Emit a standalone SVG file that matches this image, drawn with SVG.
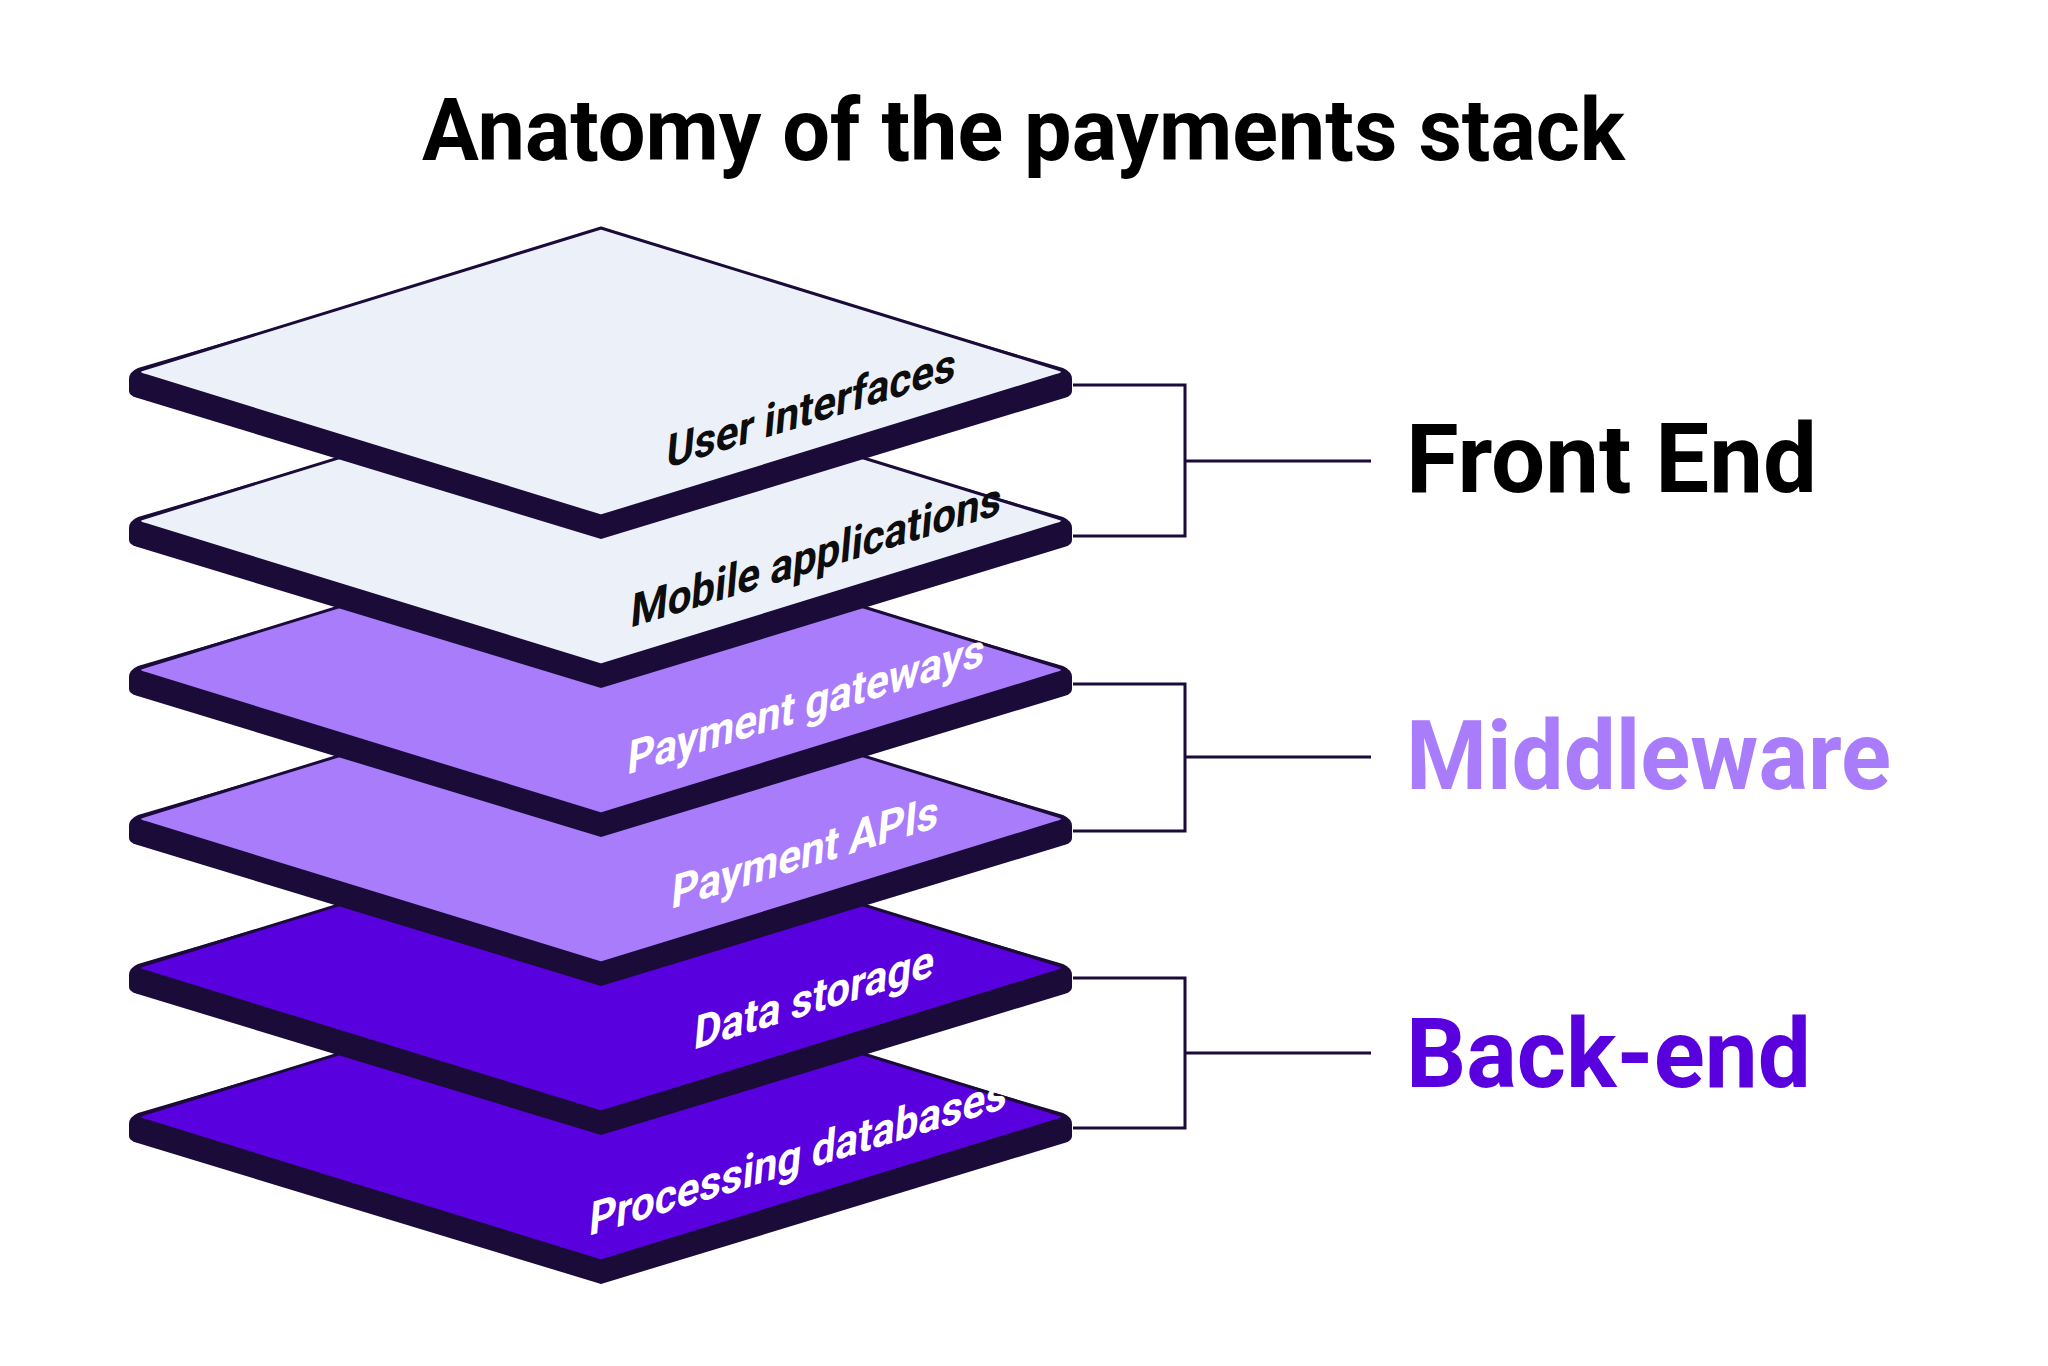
<svg xmlns="http://www.w3.org/2000/svg" width="2048" height="1366" viewBox="0 0 2048 1366">
<style>
.slab{fill:#1a0b38;}
.face{stroke:#1a0b38;stroke-width:3;stroke-linejoin:round;}
.light{fill:#ecf0f9;}
.mid{fill:#a97cfc;}
.dark{fill:#5900de;}
.lbl{font-family:Roboto,"Liberation Sans",sans-serif;font-weight:700;font-size:44px;text-anchor:middle;}
.conn{fill:none;stroke:#1a0b38;stroke-width:3;}
.grp{font-family:Roboto,"Liberation Sans",sans-serif;font-weight:700;font-size:96px;}
.title{font-family:Roboto,"Liberation Sans",sans-serif;font-weight:700;font-size:87px;text-anchor:middle;fill:#000;}
</style>
<defs>
<path id="slabShape" d="M138,-4 Q129,0 129,7 L129,19 Q129,23 136,25.5 L601,167 L1066,25.5 Q1072,23 1072,19 L1072,7 Q1072,0 1063,-4 L601,-140 Z"/>
<path id="faceShape" d="M601,-144 L1056.5,-3.5 Q1069,0 1056.5,3.5 L601,144 L145.5,3.5 Q133,0 145.5,-3.5 Z"/>
</defs>
<rect width="2048" height="1366" fill="#ffffff"/>
<text class="title" x="1023.5" y="160" textLength="1203" lengthAdjust="spacingAndGlyphs">Anatomy of the payments stack</text>

<g id="layer-processing-databases" transform="translate(0,1117)">
<use href="#slabShape" class="slab"/>
<use href="#faceShape" class="face dark"/>
<text class="lbl" fill="#ffffff" transform="translate(797,55) rotate(-17.07) skewX(-22)">Processing databases</text>
</g>
<g id="layer-data-storage" transform="translate(0,968)">
<use href="#slabShape" class="slab"/>
<use href="#faceShape" class="face dark"/>
<text class="lbl" fill="#ffffff" transform="translate(813,45) rotate(-17.07) skewX(-22)">Data storage</text>
</g>
<g id="layer-payment-apis" transform="translate(0,819)">
<use href="#slabShape" class="slab"/>
<use href="#faceShape" class="face mid"/>
<text class="lbl" fill="#ffffff" transform="translate(804,49) rotate(-17.07) skewX(-22)">Payment APIs</text>
</g>
<g id="layer-payment-gateways" transform="translate(0,670)">
<use href="#slabShape" class="slab"/>
<use href="#faceShape" class="face mid"/>
<text class="lbl" fill="#ffffff" transform="translate(805,50) rotate(-17.07) skewX(-22)">Payment gateways</text>
</g>
<g id="layer-mobile-applications" transform="translate(0,521)">
<use href="#slabShape" class="slab"/>
<use href="#faceShape" class="face light"/>
<text class="lbl" fill="#0d0d0d" transform="translate(815,50) rotate(-17.07) skewX(-22)">Mobile applications</text>
</g>
<g id="layer-user-interfaces" transform="translate(0,372)">
<use href="#slabShape" class="slab"/>
<use href="#faceShape" class="face light"/>
<text class="lbl" fill="#0d0d0d" transform="translate(810,52) rotate(-17.07) skewX(-22)">User interfaces</text>
</g>

<g id="connectors">
<path class="conn" d="M1073,385 H1185 V536 H1073 M1185,461 H1371"/>
<path class="conn" d="M1073,684 H1185 V831 H1073 M1185,757 H1371"/>
<path class="conn" d="M1073,978 H1185 V1128 H1073 M1185,1053 H1371"/>
</g>

<g id="group-front-end"><text class="grp" x="1406" y="492" fill="#000000" textLength="411" lengthAdjust="spacingAndGlyphs">Front End</text></g>
<g id="group-middleware"><text class="grp" x="1406" y="789" fill="#a97cfc" textLength="485" lengthAdjust="spacingAndGlyphs">Middleware</text></g>
<g id="group-back-end"><text class="grp" x="1406" y="1087" fill="#5900de" textLength="405" lengthAdjust="spacingAndGlyphs">Back-end</text></g>
</svg>
